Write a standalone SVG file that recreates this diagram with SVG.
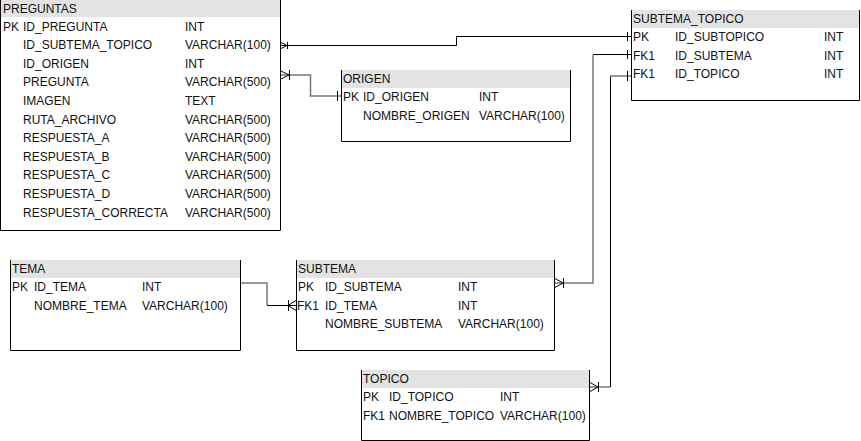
<svg xmlns="http://www.w3.org/2000/svg" width="861" height="441" viewBox="0 0 861 441">
<defs>
<style>
text{font-family:"Liberation Sans",Arial,sans-serif;font-size:12px;fill:#111}
.hdr{fill:#e3e3e3;stroke:none}
.box{fill:none;stroke:#000;stroke-width:1}
.body{fill:#fff;stroke:none}
.c{fill:none;stroke:#000;stroke-width:1}
.g{fill:none;stroke:#777;stroke-width:1.5}
</style>
</defs>
<rect width="861" height="441" fill="#fff"/>

<g id="connectors">
  <!-- PREGUNTAS.ID_SUBTEMA_TOPICO -> SUBTEMA_TOPICO.PK -->
  <path class="c" d="M281,45.5 H456.5 V36.5 H631"/>
  <path class="c" d="M281,42.5 L287,45.5 L281,48.5 M287.5,42 V49 M627.5,32 V41"/>
  <!-- PREGUNTAS.ID_ORIGEN -> ORIGEN.PK -->
  <path class="g" d="M281,75 H310.5 V96 H341"/>
  <path class="c" d="M281,71 L289,75 L281,79 M289.5,70 V80 M337.5,91 V101"/>
  <!-- TEMA -> SUBTEMA -->
  <path class="g" d="M241,283 H267 V305"/>
  <path class="c" d="M267,305.5 H296"/>
  <path class="c" d="M296,300.5 L288,305.5 L296,310.5 M288.5,300 V311"/>
  <!-- SUBTEMA -> SUBTEMA_TOPICO.FK1 ID_SUBTEMA -->
  <path class="g" d="M555,283 H593 V55"/>
  <path class="c" d="M593,54.5 H631"/>
  <path class="c" d="M555,278.5 L563,283 L555,287.5 M563.5,278 V288 M627.5,50 V59"/>
  <!-- TOPICO -> SUBTEMA_TOPICO.FK1 ID_TOPICO -->
  <path class="g" d="M590,387 H610.5"/>
  <path class="c" d="M610.5,387 V76"/>
  <path class="g" d="M610,76 H631"/>
  <path class="c" d="M590,382.5 L598,387 L590,391.5 M598.5,382 V392 M627.5,71 V81"/>
</g>

<g id="PREGUNTAS">
  <rect class="body" x="0" y="0" width="281" height="230"/>
  <rect class="hdr" x="0" y="0" width="281" height="17"/>
  <path class="box" d="M0.5,0 V230.5 H280.5 V0"/>
  <text x="3" y="13">PREGUNTAS</text>
  <text x="3" y="30.5">PK</text><text x="23" y="30.5">ID_PREGUNTA</text><text x="185" y="30.5">INT</text>
  <text x="23" y="49.2">ID_SUBTEMA_TOPICO</text><text x="185" y="49.2">VARCHAR(100)</text>
  <text x="23" y="67.8">ID_ORIGEN</text><text x="185" y="67.8">INT</text>
  <text x="23" y="86.4">PREGUNTA</text><text x="185" y="86.4">VARCHAR(500)</text>
  <text x="23" y="105">IMAGEN</text><text x="185" y="105">TEXT</text>
  <text x="23" y="123.6">RUTA_ARCHIVO</text><text x="185" y="123.6">VARCHAR(500)</text>
  <text x="23" y="142.2">RESPUESTA_A</text><text x="185" y="142.2">VARCHAR(500)</text>
  <text x="23" y="160.8">RESPUESTA_B</text><text x="185" y="160.8">VARCHAR(500)</text>
  <text x="23" y="179.4">RESPUESTA_C</text><text x="185" y="179.4">VARCHAR(500)</text>
  <text x="23" y="198">RESPUESTA_D</text><text x="185" y="198">VARCHAR(500)</text>
  <text x="23" y="216.6">RESPUESTA_CORRECTA</text><text x="185" y="216.6">VARCHAR(500)</text>
</g>

<g id="ORIGEN">
  <rect class="body" x="341" y="70" width="230" height="71"/>
  <rect class="hdr" x="341" y="70" width="230" height="18"/>
  <path class="box" d="M341.5,70 V141.5 H570.5 V70"/>
  <text x="343" y="83">ORIGEN</text>
  <text x="343" y="101">PK</text><text x="363" y="101">ID_ORIGEN</text><text x="479" y="101">INT</text>
  <text x="363" y="119.5">NOMBRE_ORIGEN</text><text x="479" y="119.5">VARCHAR(100)</text>
</g>

<g id="SUBTEMA_TOPICO">
  <rect class="body" x="631" y="10" width="229" height="90"/>
  <rect class="hdr" x="631" y="10" width="229" height="18"/>
  <path class="box" d="M631.5,10 V100.5 H859.5 V10"/>
  <text x="633" y="23">SUBTEMA_TOPICO</text>
  <text x="633" y="40.5">PK</text><text x="675" y="40.5">ID_SUBTOPICO</text><text x="824" y="40.5">INT</text>
  <text x="633" y="59.5">FK1</text><text x="675" y="59.5">ID_SUBTEMA</text><text x="824" y="59.5">INT</text>
  <text x="633" y="78">FK1</text><text x="675" y="78">ID_TOPICO</text><text x="824" y="78">INT</text>
</g>

<g id="TEMA">
  <rect class="body" x="10" y="260" width="231" height="90"/>
  <rect class="hdr" x="10" y="260" width="231" height="18"/>
  <path class="box" d="M10.5,260 V350.5 H240.5 V260"/>
  <text x="12" y="273">TEMA</text>
  <text x="12" y="290.5">PK</text><text x="34" y="290.5">ID_TEMA</text><text x="142" y="290.5">INT</text>
  <text x="34" y="309.5">NOMBRE_TEMA</text><text x="142" y="309.5">VARCHAR(100)</text>
</g>

<g id="SUBTEMA">
  <rect class="body" x="296" y="260" width="259" height="90"/>
  <rect class="hdr" x="296" y="260" width="259" height="18"/>
  <path class="box" d="M296.5,260 V350.5 H554.5 V260"/>
  <text x="298" y="273">SUBTEMA</text>
  <text x="298" y="290.5">PK</text><text x="325" y="290.5">ID_SUBTEMA</text><text x="458" y="290.5">INT</text>
  <text x="297" y="309.5">FK1</text><text x="325" y="309.5">ID_TEMA</text><text x="458" y="309.5">INT</text>
  <text x="325" y="328">NOMBRE_SUBTEMA</text><text x="458" y="328">VARCHAR(100)</text>
</g>

<g id="TOPICO">
  <rect class="body" x="361" y="370" width="229" height="70"/>
  <rect class="hdr" x="361" y="370" width="229" height="18"/>
  <path class="box" d="M361.5,370 V440.5 H589.5 V370"/>
  <text x="363" y="383">TOPICO</text>
  <text x="363" y="401">PK</text><text x="389" y="401">ID_TOPICO</text><text x="500" y="401">INT</text>
  <text x="363" y="420">FK1</text><text x="389" y="420">NOMBRE_TOPICO</text><text x="500" y="420">VARCHAR(100)</text>
</g>
</svg>
